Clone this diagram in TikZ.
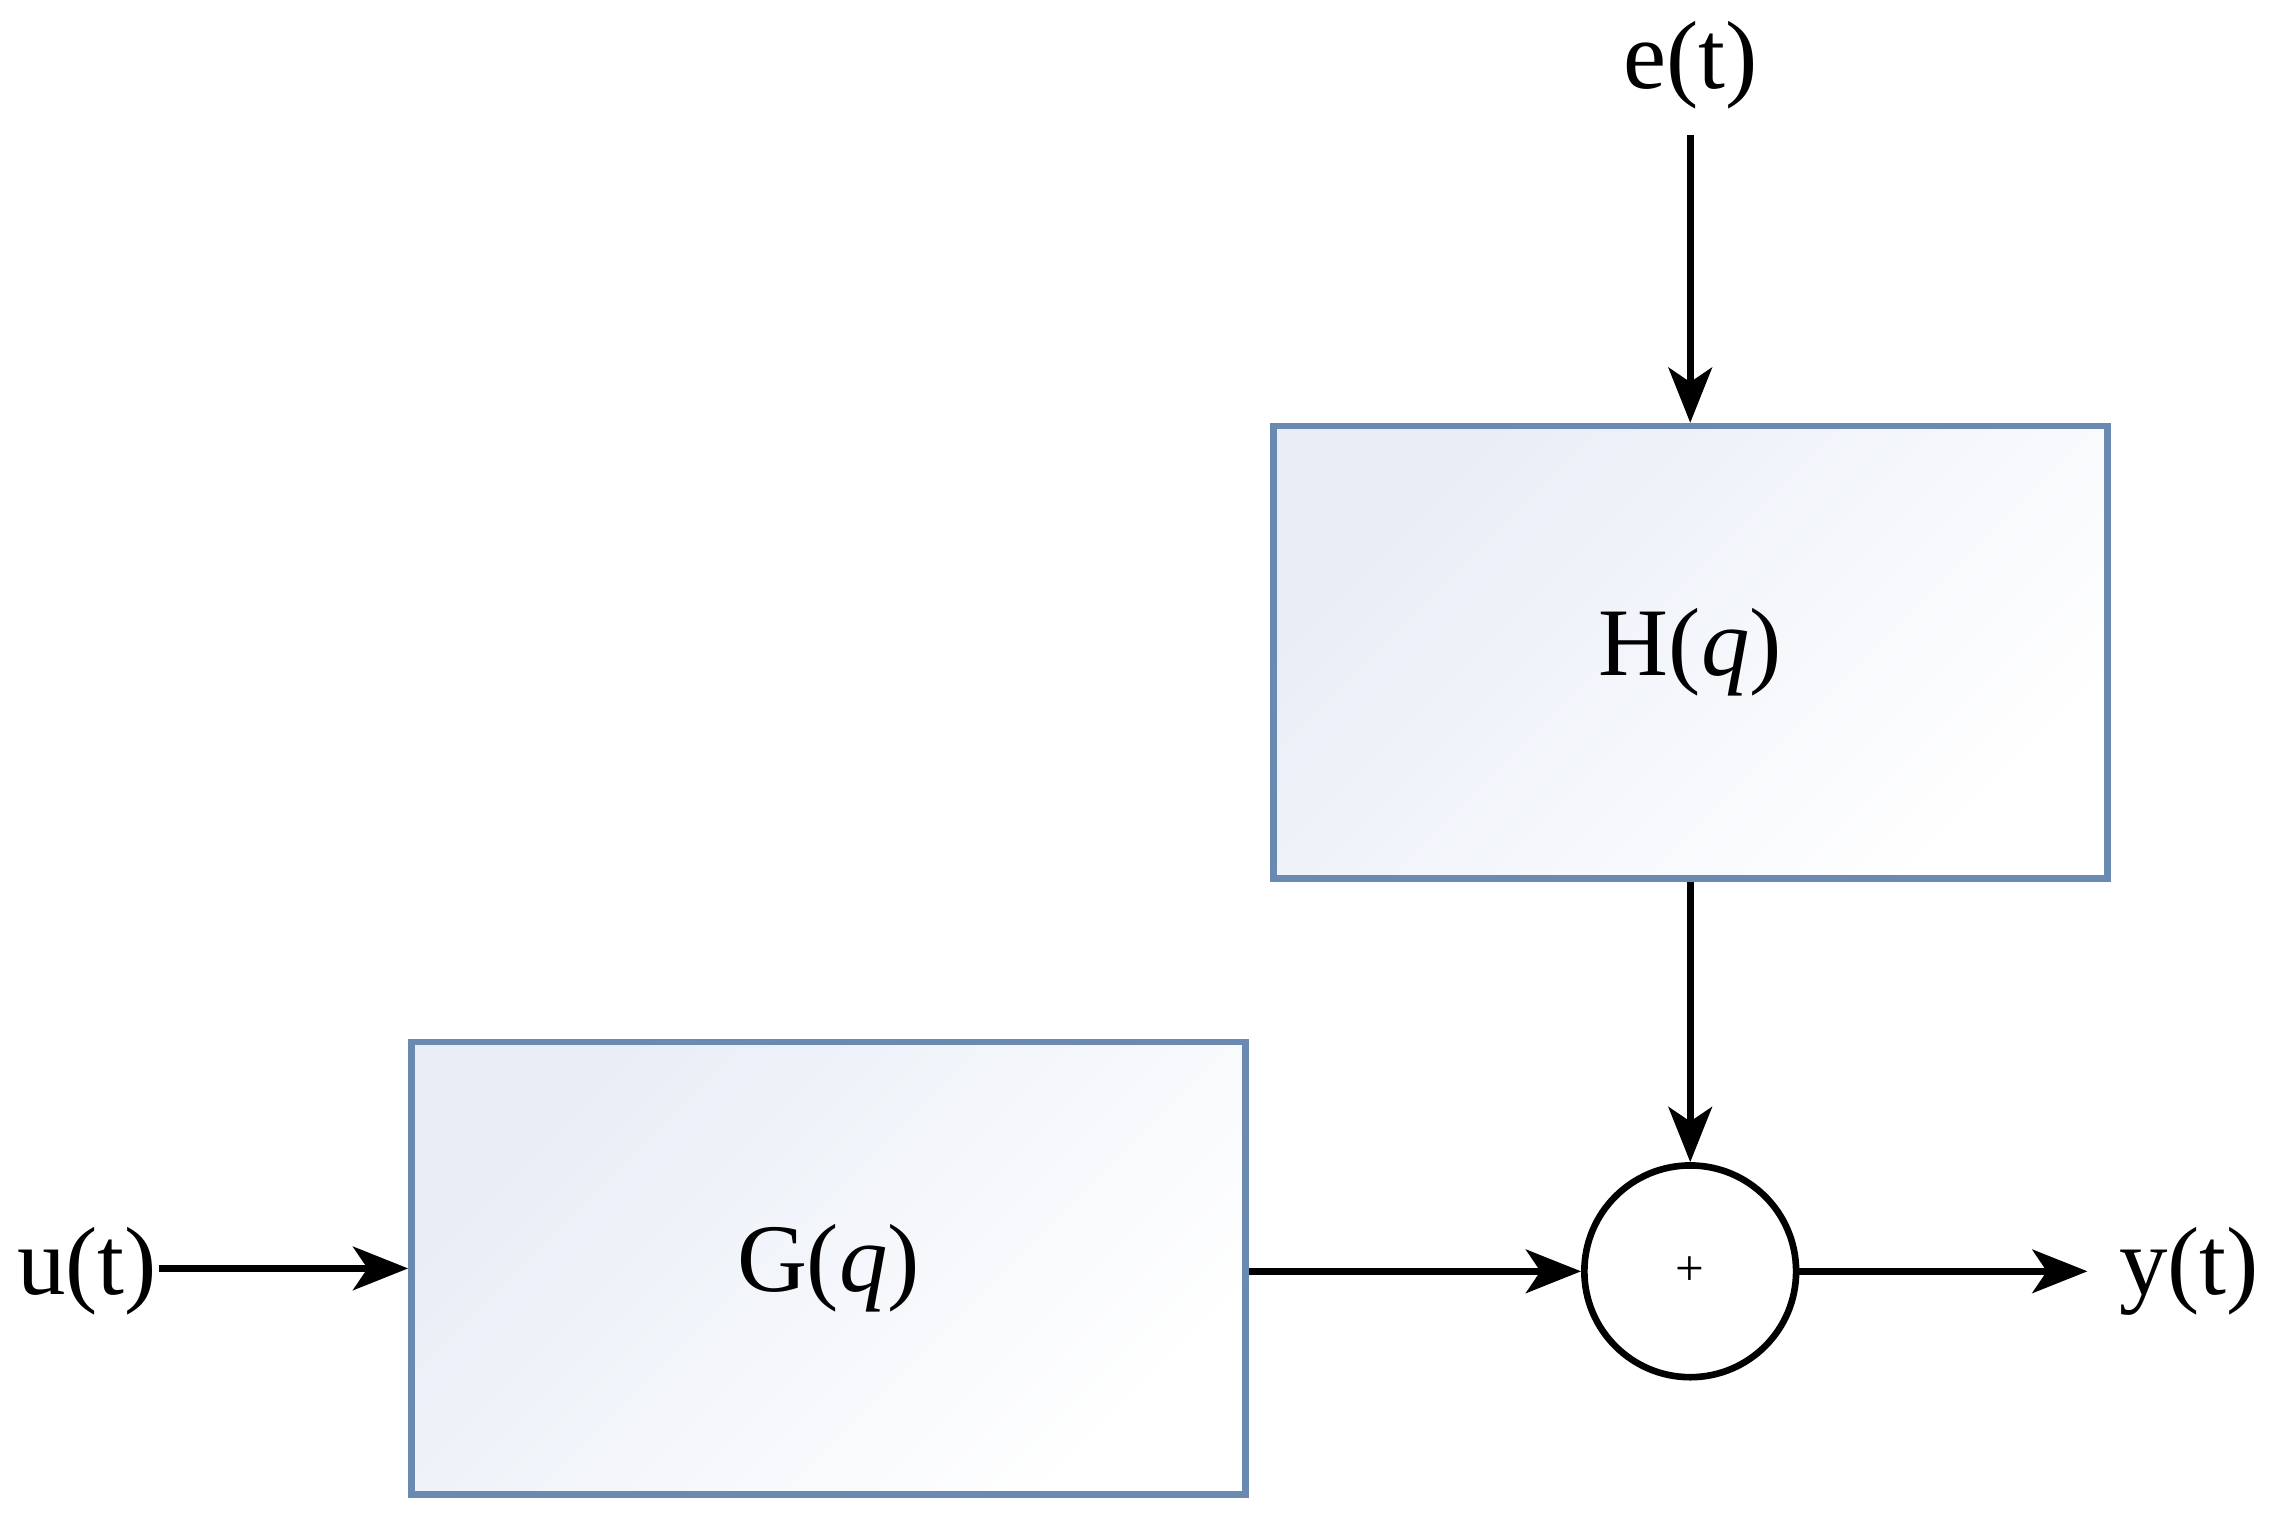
\documentclass[tikz,border=0pt]{standalone}
\usepackage{fontspec}
\setmainfont{Liberation Serif}
\usetikzlibrary{arrows.meta,shadings}
\begin{document}
\begin{tikzpicture}[x=0.01cm,y=-0.01cm,
  blk/.style={draw=boxblue,line width=1.3pt,left color=boxfill,right color=white,shading angle=45,minimum width=5.75cm,minimum height=3.12cm,inner sep=0pt},
  lbl/.style={font=\fontsize{19}{23}\selectfont,inner sep=0pt},
  arr/.style={line width=1.3pt,-{Stealth[length=0.38cm,width=0.3cm,inset=0.1cm]}},
  ln/.style={line width=1.3pt}]
\definecolor{boxblue}{HTML}{6A8AB2}
\definecolor{boxfill}{HTML}{E8EDF6}
\useasboundingbox (0,0) rectangle (1568,1051);
\node[blk] (H) at (1166,450) {};
\node[lbl] at (H.center) {H(\textit{q})};
\node[blk] (G) at (571.5,875) {};
\node[lbl] at (G.center) {G(\textit{q})};
\node[draw,circle,line width=1.3pt,minimum size=1.46cm,inner sep=0pt,font=\normalsize] (S) at (1166,877) {+};
\node[lbl] (e) at (1166,45) {e(t)};
\node[lbl] (u) at (60,877) {u(t)};
\node[lbl] (y) at (1510,877) {y(t)};
\coordinate (e0) at (1166,93);
\coordinate (u0) at (110,875);
\coordinate (y0) at (1440,877);
\draw[arr] (e0) -- (H.north);
\draw[arr] (u0) -- (G.west);
\draw[arr] (H.south) -- (S.north);
\draw[arr] (G.east |- S.west) -- (S.west);
\draw[arr] (S.east) -- (y0);
\end{tikzpicture}
\end{document}
